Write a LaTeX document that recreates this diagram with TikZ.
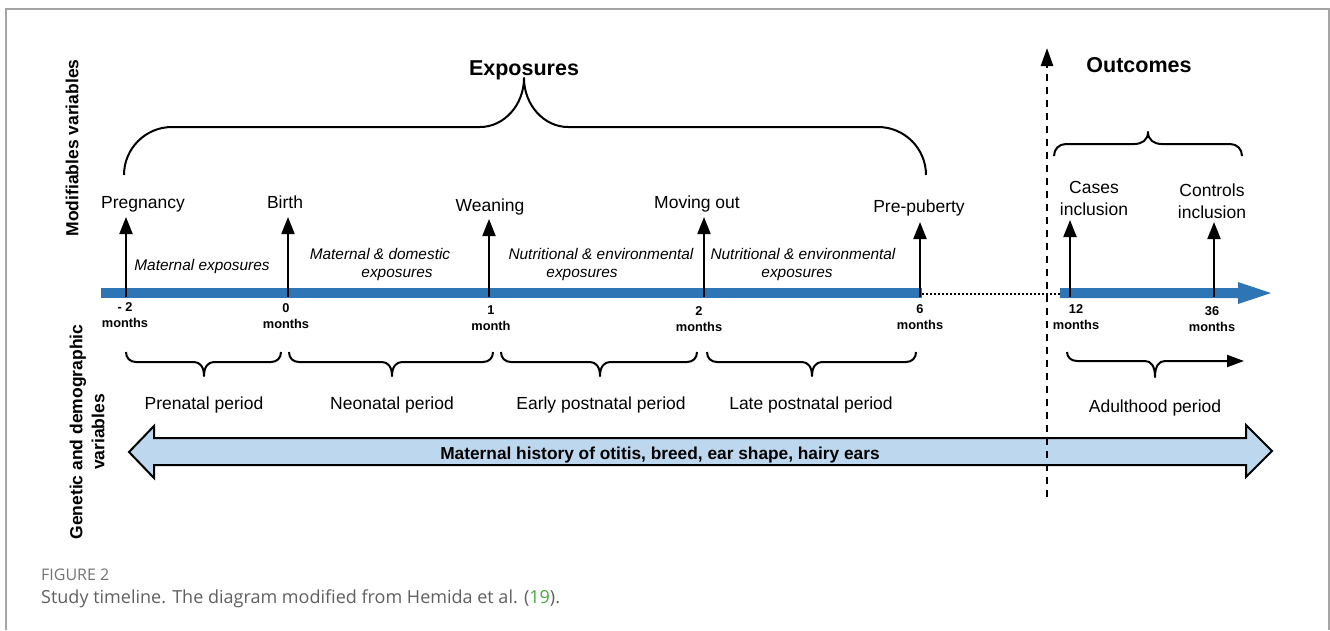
\documentclass[tikz,border=0pt]{standalone}
\usepackage{fontspec}
\setmainfont{Liberation Sans}
\newfontfamily\capfont{Open Sans}
\usetikzlibrary{arrows.meta}
\definecolor{barblue}{RGB}{46,117,182}
\definecolor{lightblue}{RGB}{189,215,238}
\definecolor{capgray}{RGB}{95,95,95}
\definecolor{figgray}{RGB}{115,115,115}
\definecolor{refgreen}{RGB}{70,170,60}
\definecolor{framegray}{RGB}{165,165,165}
\tikzset{
  lbl/.style={font=\fontsize{17.5}{22}\selectfont, inner sep=0pt},
  ital/.style={font=\fontsize{15.4}{18}\selectfont\itshape, align=center, inner sep=0pt},
  tick/.style={font=\fontsize{12.8}{16}\selectfont\bfseries, align=center, inner sep=0pt},
  ttl/.style={font=\fontsize{21.5}{26}\selectfont\bfseries, inner sep=0pt},
  side/.style={font=\fontsize{17.5}{22}\selectfont\bfseries, rotate=90, align=center, inner sep=0pt},
  uparrow/.style={line width=2pt, -{Triangle[length=17pt,width=13pt]}},
  bracestyle/.style={line width=2pt, line join=round},
}
\newcommand{\bbrace}[3]{%
  \draw[bracestyle] (#1,352) .. controls (#1,358) and ({#1+4},362) .. ({#1+10},362)
    -- ({#2-10},362) .. controls ({#2-4},362) and (#2,367) .. (#2,376)
    .. controls (#2,367) and ({#2+4},362) .. ({#2+10},362)
    -- ({#3-10},362) .. controls ({#3-4},362) and (#3,358) .. (#3,352);}
\begin{document}
\begin{tikzpicture}[x=1pt,y=-1pt]
\useasboundingbox (0,0) rectangle (1330,630);
% frame
\draw[framegray, line width=1.5pt] (6,630) -- (6,9) -- (1329,9) -- (1329,630);

% timeline bar
\fill[barblue] (101,288) rectangle (922,298);
\fill[barblue] (1060,288) -- (1238,288) -- (1238,282) -- (1271,293) -- (1238,304) -- (1238,298) -- (1060,298) -- cycle;
\draw[line width=1.5pt, dash pattern=on 1.5pt off 2.5pt] (922,294) -- (1060,294);

% tick coordinates
\coordinate (tA) at (126,297);  \coordinate (hA) at (126,217);
\coordinate (tB) at (288,297);  \coordinate (hB) at (288,217);
\coordinate (tC) at (489,297);  \coordinate (hC) at (489,219);
\coordinate (tD) at (704,297);  \coordinate (hD) at (704,217);
\coordinate (tE) at (920,297);  \coordinate (hE) at (920,222);
\coordinate (tF) at (1070,297); \coordinate (hF) at (1070,220);
\coordinate (tG) at (1214,297); \coordinate (hG) at (1214,222);
\foreach \a/\b in {tA/hA,tB/hB,tC/hC,tD/hD,tE/hE,tF/hF,tG/hG}
  \draw[uparrow] (\a) -- (\b);

% light blue double arrow
\draw[line width=2pt, fill=lightblue, line join=miter]
  (129,452) -- (154,426) -- (154,438) -- (1246,438) -- (1246,425) -- (1272,451)
  -- (1246,477) -- (1246,465) -- (154,465) -- (154,478) -- cycle;
\node[font=\fontsize{17.3}{20}\selectfont\bfseries, inner sep=0pt, anchor=base] (hist) at (660,459)
  {Maternal history of otitis, breed, ear shape, hairy ears};

% dashed separator
\coordinate (dbot) at (1047,497);
\coordinate (dtop) at (1047,48);
\draw[line width=2.5pt, dash pattern=on 7pt off 6pt, -{Triangle[length=18pt,width=12pt]}] (dbot) -- (dtop);

% exposures brace
\draw[bracestyle] (124,175) .. controls (124,148.5) and (145.5,127) .. (172,127)
  -- (480,127) .. controls (504,127) and (524,105) .. (524,78)
  .. controls (524,105) and (544,127) .. (568,127)
  -- (878,127) .. controls (904.5,127) and (926,148.5) .. (926,175);
% outcomes brace
\draw[bracestyle] (1054,156) .. controls (1054,149) and (1059,144) .. (1066,144)
  -- (1134,144) .. controls (1142,144) and (1148,140) .. (1148,132)
  .. controls (1148,140) and (1154,144) .. (1162,144)
  -- (1230,144) .. controls (1237,144) and (1242,149) .. (1242,156);

% period braces
\bbrace{126}{204}{281}
\bbrace{289}{392}{493}
\bbrace{501}{600}{697}
\bbrace{707}{812}{916}
\coordinate (adS) at (1067,352);
\coordinate (adE) at (1244,361);
\draw[bracestyle, -{Triangle[length=17pt,width=12pt]}] (adS) .. controls (1067,357) and (1071,361) .. (1077,361)
  -- (1145,361) .. controls (1151,361) and (1155,366) .. (1155,377)
  .. controls (1155,366) and (1159,361) .. (1165,361) -- (adE);

% titles
\node[ttl, anchor=base] (exp) at (524,75) {Exposures};
\node[ttl, anchor=base] (out) at (1139,72) {Outcomes};
\node[side] (mod) at (72,148) {Modifiables variables};
\node[side] (gen) at (87,432) {Genetic and demographic\\variables};

% event labels
\node[lbl, anchor=base] (preg) at (143,208) {Pregnancy};
\node[lbl, anchor=base] (birth) at (285,208) {Birth};
\node[lbl, anchor=base] (wean) at (490,211) {Weaning};
\node[lbl, anchor=base] (move) at (697,208) {Moving out};
\node[lbl, anchor=base] (prep) at (919,212) {Pre-puberty};
\node[lbl, align=center] (cases) at (1094,198) {Cases\\inclusion};
\node[lbl, align=center] (ctrl) at (1212,201) {Controls\\inclusion};

% exposure labels
\node[ital, anchor=base] (mexp) at (202,270) {Maternal exposures};
\node[ital] (mdexp) at (380,265) {Maternal \& domestic\\\hspace*{34pt}exposures};
\node[ital] (nexp1) at (601,264.5) {Nutritional \& environmental\\exposures\hspace*{38pt}};
\node[ital] (nexp2) at (803,264.5) {Nutritional \& environmental\\exposures\hspace*{12pt}};

% tick labels
\node[tick] (kA) at (125,315) {- 2\\months};
\node[tick] (kB) at (286,316) {0\\months};
\node[tick] (kC) at (491,318) {1\\month};
\node[tick] (kD) at (699,319) {2\\months};
\node[tick] (kE) at (920,317) {6\\months};
\node[tick] (kF) at (1076,317) {12\\months};
\node[tick] (kG) at (1212,319) {36\\months};

% period labels
\node[lbl, anchor=base] (pre) at (204,409) {Prenatal period};
\node[lbl, anchor=base] (neo) at (392,409) {Neonatal period};
\node[lbl, anchor=base] (early) at (601,409) {Early postnatal period};
\node[lbl, anchor=base] (late) at (811,409) {Late postnatal period};
\node[lbl, anchor=base] (adult) at (1155,412) {Adulthood period};

% caption
\node[anchor=base west, inner sep=0pt, font=\capfont\fontsize{16}{20}\selectfont, text=figgray] (fig) at (41,580) {FIGURE 2};
\node[anchor=base west, inner sep=0pt, font=\capfont\fontsize{18}{22}\selectfont, text=capgray] (cap) at (41,603)
  {Study timeline. The diagram modified from Hemida et al. (\textcolor{refgreen}{19}).};
\end{tikzpicture}
\end{document}
